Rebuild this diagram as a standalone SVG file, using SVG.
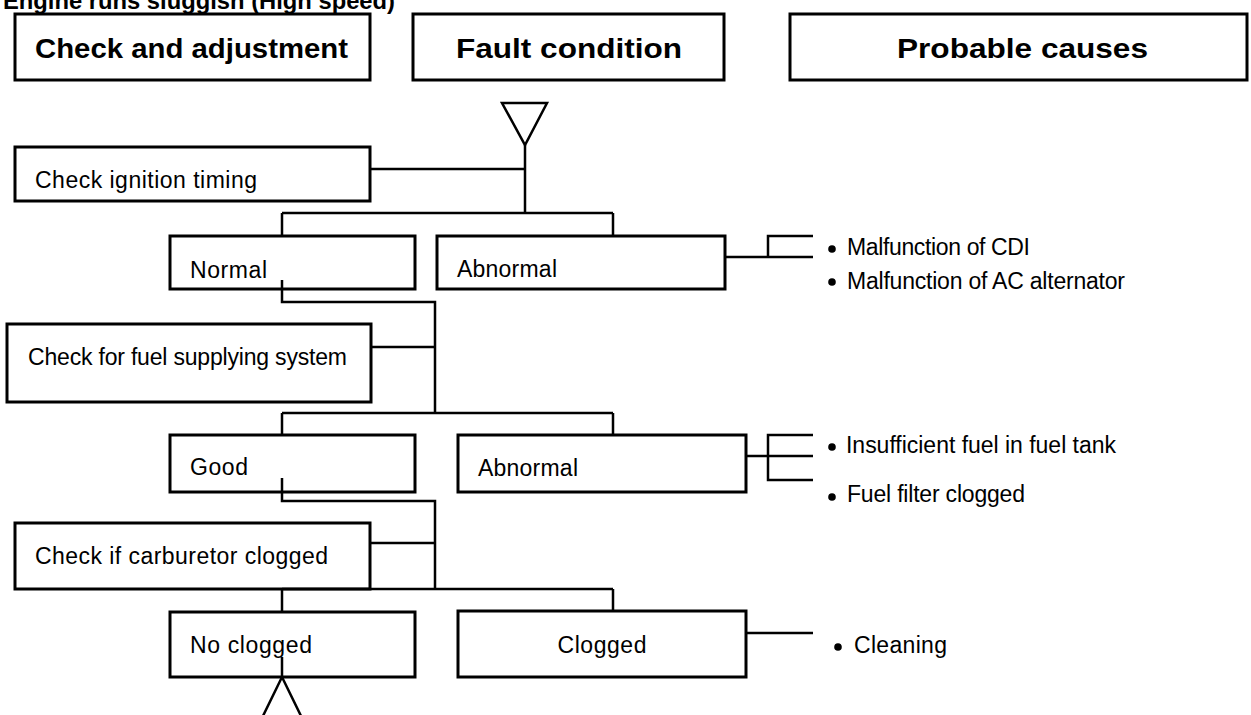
<svg xmlns="http://www.w3.org/2000/svg" width="1251" height="715" viewBox="0 0 1251 715">
<style>
.box{fill:#fff;stroke:#000;stroke-width:3}
.ln{fill:none;stroke:#000;stroke-width:2.5}
.t{font-family:"Liberation Sans",Arial,sans-serif;font-size:23px;fill:#000}
.h{font-family:"Liberation Sans",Arial,sans-serif;font-size:28px;font-weight:bold;fill:#000}
.ttl{font-family:"Liberation Sans",Arial,sans-serif;font-size:24px;font-weight:bold;fill:#000}
</style>
<rect width="1251" height="715" fill="#fff"/>
<text class="ttl" x="3" y="9" textLength="392" lengthAdjust="spacingAndGlyphs">Engine runs sluggish (High speed)</text>

<g id="hdr-check"><rect class="box" x="15" y="14" width="355" height="66"/><text class="h" x="35" y="58" textLength="313" lengthAdjust="spacingAndGlyphs">Check and adjustment</text></g>
<g id="hdr-fault"><rect class="box" x="413" y="14" width="311" height="66"/><text class="h" x="456" y="58" textLength="226" lengthAdjust="spacingAndGlyphs">Fault condition</text></g>
<g id="hdr-causes"><rect class="box" x="790" y="14" width="457" height="66"/><text class="h" x="897" y="58" textLength="251" lengthAdjust="spacingAndGlyphs">Probable causes</text></g>

<g id="start"><polygon class="ln" points="502,103 547,103 525,145"/></g>

<g id="n-ignition"><rect class="box" x="15" y="147" width="355" height="54"/><text class="t" x="35" y="188" textLength="222">Check ignition timing</text></g>
<g id="n-normal"><rect class="box" x="170" y="236" width="245" height="53"/><text class="t" x="190" y="278" textLength="77">Normal</text></g>
<g id="n-abnormal1"><rect class="box" x="437" y="236" width="288" height="53"/><text class="t" x="457" y="277" textLength="100">Abnormal</text></g>
<g id="c-abnormal1">
<circle cx="832" cy="249" r="3.8"/><text class="t" x="847" y="255" textLength="183">Malfunction of CDI</text>
<circle cx="832" cy="282" r="3.8"/><text class="t" x="847" y="289" textLength="278">Malfunction of AC alternator</text>
</g>

<g id="n-fuel"><rect class="box" x="7" y="324" width="364" height="78"/><text class="t" x="28" y="365" textLength="319">Check for fuel supplying system</text></g>
<g id="n-good"><rect class="box" x="170" y="435" width="245" height="57"/><text class="t" x="190" y="475" textLength="58">Good</text></g>
<g id="n-abnormal2"><rect class="box" x="458" y="435" width="288" height="57"/><text class="t" x="478" y="476" textLength="100">Abnormal</text></g>
<g id="c-abnormal2">
<circle cx="832" cy="447" r="3.8"/><text class="t" x="846" y="453" textLength="270">Insufficient fuel in fuel tank</text>
<circle cx="832" cy="497" r="3.8"/><text class="t" x="847" y="502" textLength="178">Fuel filter clogged</text>
</g>

<g id="n-carb"><rect class="box" x="15" y="523" width="355" height="66"/><text class="t" x="35" y="564" textLength="293">Check if carburetor clogged</text></g>
<g id="n-noclog"><rect class="box" x="170" y="612" width="245" height="65"/><text class="t" x="190" y="653" textLength="122">No clogged</text></g>
<g id="n-clogged"><rect class="box" x="458" y="611" width="288" height="66"/><text class="t" x="602" y="653" text-anchor="middle" textLength="89">Clogged</text></g>
<g id="c-clogged"><circle cx="838" cy="647" r="3.8"/><text class="t" x="854" y="653" textLength="93">Cleaning</text></g>

<g id="connectors">
<path class="ln" d="M525,145 V213 M370,169 H525 M282,213 H613 M282,213 V236 M613,213 V236"/>
<path class="ln" d="M725,257 H813 M768,257 V236 H813"/>
<path class="ln" d="M282,280 V302 H435 V413 M370,347 H435 M282,413 H613 M282,413 V435 M613,413 V435"/>
<path class="ln" d="M746,456 H813 M813,435 H768 V480 H813"/>
<path class="ln" d="M282,478 V501 H435 V589 M370,543 H435 M282,589 H613 M282,589 V612 M613,589 V611"/>
<path class="ln" d="M746,633 H813"/>
<path class="ln" d="M282,657 V677 M262,718 L282,677 L302,718"/>
</g>
</svg>
